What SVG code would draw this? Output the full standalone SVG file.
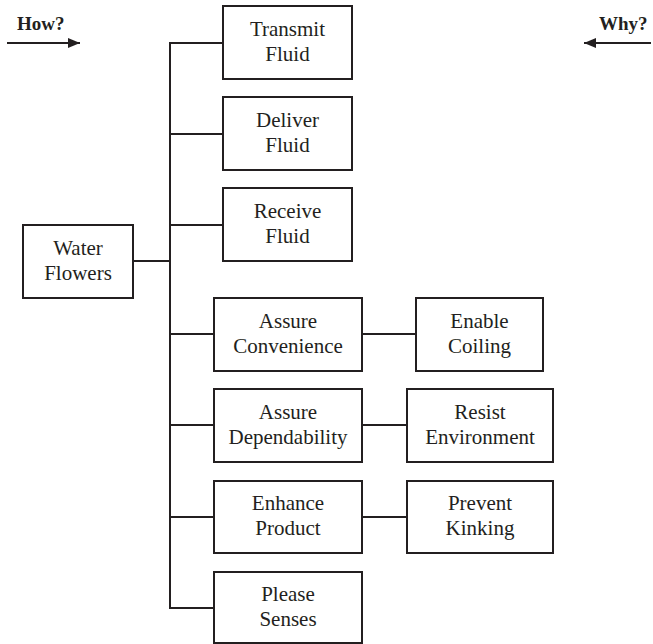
<svg xmlns="http://www.w3.org/2000/svg" width="653" height="644" viewBox="0 0 653 644">
  <defs>
    <style>
      .box { fill: #ffffff; stroke: #231f20; stroke-width: 2; }
      .lbl { font-family: "Liberation Serif", "DejaVu Serif", serif; font-size: 21px; fill: #231f20; text-anchor: middle; }
      .hdr { font-family: "Liberation Serif", "DejaVu Serif", serif; font-size: 19px; font-weight: bold; fill: #231f20; }
      .wire { fill: none; stroke: #231f20; stroke-width: 2; }
    </style>
    <marker id="arrow" viewBox="0 0 12 10" refX="12" refY="5" markerWidth="12" markerHeight="10" markerUnits="userSpaceOnUse" orient="auto">
      <path d="M0,0 L12,5 L0,10 Z" fill="#231f20"/>
    </marker>
  </defs>

  <rect width="653" height="644" fill="#ffffff"/>

  <!-- direction legend -->
  <g id="legend">
    <text class="hdr" x="17" y="30">How?</text>
    <line class="wire" x1="7" y1="43" x2="80" y2="43" marker-end="url(#arrow)"/>
    <text class="hdr" x="599" y="30">Why?</text>
    <line class="wire" x1="651" y1="43" x2="584" y2="43" marker-end="url(#arrow)"/>
  </g>

  <!-- connectors -->
  <g id="connectors">
    <line class="wire" x1="133" y1="261" x2="170" y2="261"/>
    <line class="wire" x1="170" y1="42" x2="170" y2="609"/>
    <line class="wire" x1="169" y1="43" x2="223" y2="43"/>
    <line class="wire" x1="169" y1="134" x2="223" y2="134"/>
    <line class="wire" x1="169" y1="225" x2="223" y2="225"/>
    <line class="wire" x1="169" y1="334" x2="214" y2="334"/>
    <line class="wire" x1="169" y1="425" x2="214" y2="425"/>
    <line class="wire" x1="169" y1="517" x2="214" y2="517"/>
    <line class="wire" x1="169" y1="608" x2="214" y2="608"/>
    <line class="wire" x1="362" y1="334" x2="416" y2="334"/>
    <line class="wire" x1="362" y1="425" x2="407" y2="425"/>
    <line class="wire" x1="362" y1="517" x2="407" y2="517"/>
  </g>

  <!-- nodes -->
  <g id="water-flowers">
    <rect class="box" x="23" y="225" width="110" height="73"/>
    <text class="lbl" x="78" y="255">Water</text>
    <text class="lbl" x="78" y="280">Flowers</text>
  </g>

  <g id="transmit-fluid">
    <rect class="box" x="223" y="6" width="129" height="73"/>
    <text class="lbl" x="287.5" y="36">Transmit</text>
    <text class="lbl" x="287.5" y="61">Fluid</text>
  </g>

  <g id="deliver-fluid">
    <rect class="box" x="223" y="97" width="129" height="73"/>
    <text class="lbl" x="287.5" y="127">Deliver</text>
    <text class="lbl" x="287.5" y="152">Fluid</text>
  </g>

  <g id="receive-fluid">
    <rect class="box" x="223" y="188" width="129" height="73"/>
    <text class="lbl" x="287.5" y="218">Receive</text>
    <text class="lbl" x="287.5" y="243">Fluid</text>
  </g>

  <g id="assure-convenience">
    <rect class="box" x="214" y="298" width="148" height="73"/>
    <text class="lbl" x="288" y="328">Assure</text>
    <text class="lbl" x="288" y="353">Convenience</text>
  </g>

  <g id="enable-coiling">
    <rect class="box" x="416" y="298" width="127" height="73"/>
    <text class="lbl" x="479.5" y="328">Enable</text>
    <text class="lbl" x="479.5" y="353">Coiling</text>
  </g>

  <g id="assure-dependability">
    <rect class="box" x="214" y="389" width="148" height="73"/>
    <text class="lbl" x="288" y="419">Assure</text>
    <text class="lbl" x="288" y="444">Dependability</text>
  </g>

  <g id="resist-environment">
    <rect class="box" x="407" y="389" width="146" height="73"/>
    <text class="lbl" x="480" y="419">Resist</text>
    <text class="lbl" x="480" y="444">Environment</text>
  </g>

  <g id="enhance-product">
    <rect class="box" x="214" y="481" width="148" height="72"/>
    <text class="lbl" x="288" y="510">Enhance</text>
    <text class="lbl" x="288" y="535">Product</text>
  </g>

  <g id="prevent-kinking">
    <rect class="box" x="407" y="481" width="146" height="72"/>
    <text class="lbl" x="480" y="510">Prevent</text>
    <text class="lbl" x="480" y="535">Kinking</text>
  </g>

  <g id="please-senses">
    <rect class="box" x="214" y="572" width="148" height="71"/>
    <text class="lbl" x="288" y="601">Please</text>
    <text class="lbl" x="288" y="626">Senses</text>
  </g>
</svg>
